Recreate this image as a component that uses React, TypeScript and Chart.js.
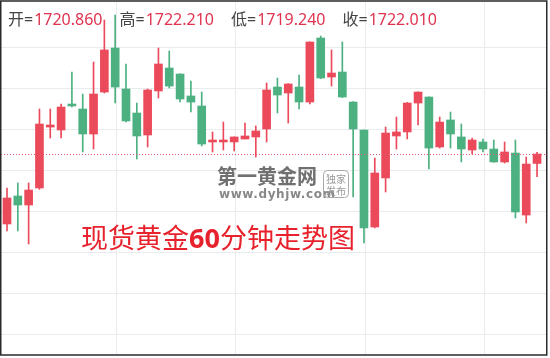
import React, { useEffect, useRef } from "react";
import { Chart, registerables } from "chart.js";

Chart.register(...registerables);

// OHLC values for each 60-minute candle (oldest first)
const opens = [
  1713.48, 1716.89, 1715.79, 1717.87, 1725.30, 1724.94, 1728.11, 1727.50, 1724.45, 1729.57,
  1734.94, 1729.94, 1727.01, 1724.33, 1729.70, 1732.50, 1731.77, 1729.09, 1727.87, 1723.48,
  1723.48, 1723.48, 1723.84, 1724.09, 1725.06, 1730.18, 1729.45, 1730.18, 1728.35, 1736.16,
  1731.40, 1732.01, 1728.35, 1724.94, 1713.11, 1719.09, 1724.21, 1724.70, 1728.23, 1728.96,
  1722.87, 1726.16, 1724.09, 1722.50, 1723.48, 1722.62, 1721.04, 1722.13, 1714.57, 1720.86,
];
const highs = [
  1717.87, 1718.48, 1718.48, 1727.50, 1727.50, 1728.11, 1732.01, 1729.33, 1733.23, 1738.35,
  1738.96, 1732.99, 1728.23, 1729.94, 1734.94, 1734.57, 1731.80, 1730.91, 1729.57, 1724.70,
  1725.91, 1724.10, 1725.79, 1725.43, 1730.67, 1731.28, 1730.60, 1731.65, 1735.70, 1736.40,
  1734.70, 1735.67, 1728.40, 1724.95, 1721.52, 1725.30, 1726.52, 1728.30, 1729.60, 1729.00,
  1726.52, 1727.13, 1725.67, 1723.96, 1723.84, 1723.72, 1723.48, 1723.72, 1721.65, 1722.21,
];
const lows = [
  1712.62, 1712.62, 1711.04, 1717.70, 1723.96, 1723.96, 1727.74, 1722.26, 1722.62, 1729.45,
  1728.23, 1725.91, 1721.40, 1722.87, 1728.84, 1730.06, 1728.35, 1727.13, 1722.99, 1722.26,
  1722.50, 1722.38, 1723.84, 1721.65, 1723.48, 1727.01, 1725.79, 1727.50, 1728.11, 1731.20,
  1730.30, 1728.90, 1716.77, 1711.16, 1713.00, 1717.38, 1722.62, 1723.84, 1725.55, 1720.18,
  1722.74, 1722.74, 1721.04, 1722.01, 1722.26, 1721.00, 1720.91, 1714.21, 1713.60, 1719.24,
];
const closes = [
  1716.65, 1715.79, 1717.62, 1725.67, 1725.55, 1727.74, 1727.87, 1724.45, 1729.33, 1734.70,
  1730.18, 1726.04, 1724.21, 1729.82, 1732.99, 1730.30, 1728.72, 1728.35, 1723.23, 1723.72,
  1723.72, 1724.09, 1724.21, 1724.82, 1729.82, 1729.21, 1730.55, 1728.35, 1735.67, 1731.28,
  1731.89, 1728.96, 1725.06, 1712.99, 1719.70, 1724.57, 1724.70, 1728.23, 1729.57, 1722.74,
  1725.91, 1724.45, 1722.62, 1723.72, 1722.62, 1721.04, 1722.26, 1714.94, 1720.79, 1722.01,
];

// horizontal grid levels and vertical grid positions (candle index)
const priceGrid = [1700, 1705, 1710, 1715, 1720, 1725, 1730, 1735];
const timeGrid = [10.1, 21.1, 33.15, 44.1];

const headerLabels = ["开=", "高=", "低=", "收="];
const titleParts = ["现货黄金", "60", "分钟走势图"];

const UP = "#eb4a5b";
const DOWN = "#4cb080";

const overlayPlugin = {
  id: "overlay",
  beforeDatasetsDraw(chart: any) {
    const { ctx } = chart;
    // watermark
    ctx.save();
    ctx.fillStyle = "#707070";
    ctx.font = 'bold 20px "Noto Sans CJK SC", sans-serif';
    ctx.textBaseline = "alphabetic";
    const wm = "第一黄金网";
    for (let i = 0; i < wm.length; i++) ctx.fillText(wm[i], 217 + i * 20, 184);
    ctx.fillStyle = "#888888";
    ctx.font = 'bold 12px "DejaVu Sans", sans-serif';
    (ctx as any).letterSpacing = "0.6px";
    ctx.fillText("www.dyhjw.com", 219, 198);
    (ctx as any).letterSpacing = "0px";
    ctx.strokeStyle = "#aaaaaa";
    ctx.lineWidth = 1;
    ctx.beginPath();
    (ctx as any).roundRect(323.5, 170.5, 25, 27, 4);
    ctx.stroke();
    ctx.fillStyle = "#999999";
    ctx.font = '10px "Noto Sans CJK SC", sans-serif';
    ctx.fillText("独家", 326, 183);
    ctx.fillText("发布", 326, 195);
    ctx.restore();
  },
  afterDraw(chart: any) {
    const { ctx, scales } = chart;
    const last = closes.length - 1;
    // current price dotted line
    const yp = Math.round(scales.y.getPixelForValue(closes[last])) + 0.5;
    ctx.save();
    ctx.strokeStyle = "#e8586e";
    ctx.lineWidth = 1;
    ctx.setLineDash([1, 2]);
    ctx.beginPath();
    ctx.moveTo(1, yp);
    ctx.lineTo(547, yp);
    ctx.stroke();
    ctx.setLineDash([]);

    // header
    const vals = [opens[last], highs[last], lows[last], closes[last]];
    ctx.font = '16px "Noto Sans", "Noto Sans CJK SC", sans-serif';
    ctx.textBaseline = "alphabetic";
    let x = 8;
    for (let i = 0; i < 4; i++) {
      ctx.fillStyle = "#444444";
      ctx.fillText(headerLabels[i], x, 25);
      x += ctx.measureText(headerLabels[i]).width + 1;
      const s = vals[i].toFixed(3);
      ctx.fillStyle = "#e0334f";
      ctx.fillText(s, x, 25);
      x += ctx.measureText(s).width + 17;
    }

    // title
    ctx.fillStyle = "#e8222c";
    let tx = 81;
    for (let i = 0; i < titleParts.length; i++) {
      ctx.font = i === 1
        ? 'bold 27px "Noto Sans", "Noto Sans CJK SC", sans-serif'
        : '27px "Noto Sans CJK SC", sans-serif';
      ctx.fillText(titleParts[i], tx, 248);
      tx += ctx.measureText(titleParts[i]).width;
    }

    // frame
    ctx.strokeStyle = "#2a2a2a";
    ctx.lineWidth = 1.5;
    ctx.strokeRect(0.75, 1, 546, 354);
    ctx.restore();
  },
};

export default function App() {
  const canvasRef = useRef<HTMLCanvasElement | null>(null);

  useEffect(() => {
    document.body.style.margin = "0";
    const canvas = canvasRef.current;
    if (!canvas) return;
    const colors = opens.map((o, i) => (closes[i] >= o ? UP : DOWN));
    const bodies = opens.map((o, i) => ({ x: i, y: [o, closes[i]] }));
    const wicks = opens.map((_, i) => ({ x: i, y: [lows[i], highs[i]] }));

    const chart = new Chart(canvas, {
      type: "bar",
      data: {
        datasets: [
          {
            data: bodies as any,
            backgroundColor: colors,
            barThickness: 8,
            minBarLength: 1.5,
            borderWidth: 0,
            grouped: false,
          } as any,
          {
            data: wicks as any,
            backgroundColor: colors,
            barThickness: 1,
            borderWidth: 0,
            grouped: false,
          } as any,
        ],
      },
      options: {
        animation: false,
        responsive: false,
        maintainAspectRatio: false,
        layout: { padding: { left: 1, right: 3, top: 2, bottom: 3 } },
        plugins: { legend: { display: false }, tooltip: { enabled: false } },
        scales: {
          x: {
            type: "linear",
            min: -0.555,
            max: 49.92,
            offset: false,
            border: { display: false },
            grid: { color: "#e8ecef", lineWidth: 1, drawTicks: false, offset: false },
            ticks: { display: false },
            afterBuildTicks: (scale: any) => {
              scale.ticks = timeGrid.map((v) => ({ value: v }));
            },
          },
          y: {
            type: "linear",
            min: 1697.5,
            max: 1740.55,
            border: { display: false },
            grid: { color: "#e8ecef", lineWidth: 1, drawTicks: false },
            ticks: { display: false },
            afterBuildTicks: (scale: any) => {
              scale.ticks = priceGrid.map((v) => ({ value: v }));
            },
          },
        },
      },
      plugins: [overlayPlugin],
    } as any);
    return () => chart.destroy();
  }, []);

  return (
    <div style={{ position: "absolute", left: 0, top: 0, width: 550, height: 358, background: "#fff" }}>
      <canvas ref={canvasRef} width={550} height={358} style={{ display: "block" }} />
    </div>
  );
}
